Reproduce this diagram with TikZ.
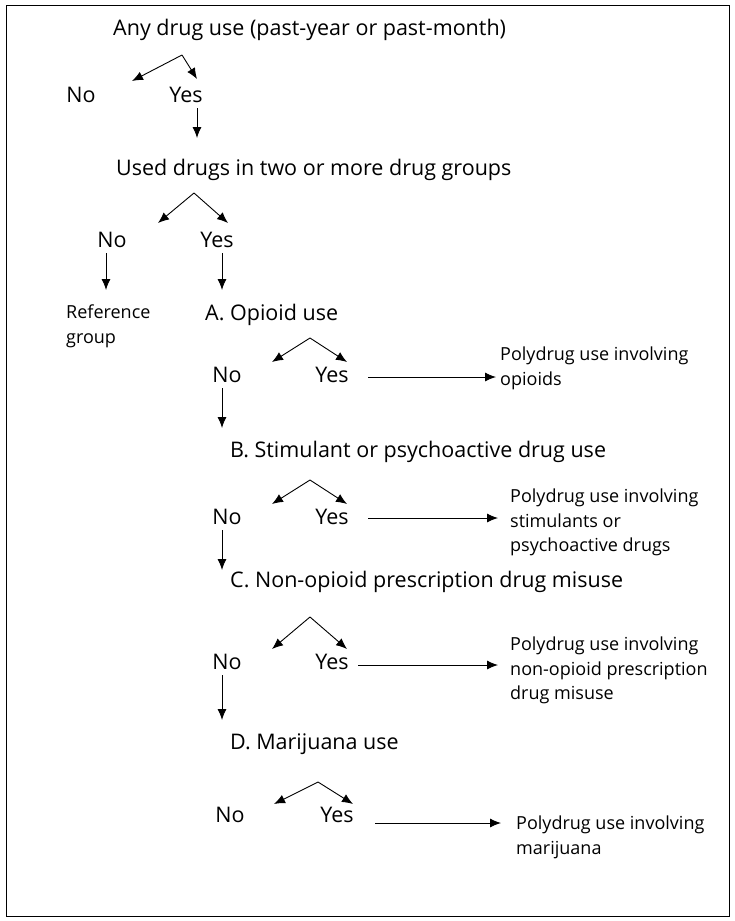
\documentclass[tikz,border=0pt]{standalone}
\usepackage{fontspec}
\setmainfont{Open Sans}
\usetikzlibrary{arrows.meta}
\begin{document}
\begin{tikzpicture}[x=1pt,y=-1pt,
  big/.style={font=\fontsize{21.5}{23}\selectfont,anchor=west,inner sep=0pt},
  yn/.style={font=\fontsize{21.5}{23}\selectfont,inner sep=1pt},
  small/.style={font=\fontsize{18}{24.5}\selectfont,anchor=north west,align=left,inner sep=0pt},
  arr/.style={-{Latex[length=11pt,width=9pt]},line width=0.9pt}]
\useasboundingbox (0,0) rectangle (735,921);
\draw[line width=0.8pt] (6,5) rectangle (729,916);
% level 0
\node[big] (q0) at (113,30) {Any drug use (past-year or past-month)};
\node[yn] (n0) at (81,95) {No};
\node[yn] (y0) at (186,95) {Yes};
\coordinate (a0) at (182,55);
\draw[arr] (a0) -- (132,81);
\draw[arr] (a0) -- (197,79);
\draw[arr] (197,108) -- (197,138);
% level 1
\node[big] (q1) at (116,170) {Used drugs in two or more drug groups};
\node[yn] (n1) at (112,240) {No};
\node[yn] (y1) at (217,240) {Yes};
\coordinate (a1) at (194,193);
\draw[arr] (a1) -- (158,223);
\draw[arr] (a1) -- (228,223);
\draw[arr] (106,253) -- (106,290);
\draw[arr] (222,253) -- (222,290);
\node[small] (ref) at (66,305) {Reference\\group};
% A
\node[big] (qa) at (205,315) {A. Opioid use};
\node[yn] (na) at (227,375) {No};
\node[yn] (ya) at (332,375) {Yes};
\coordinate (aa) at (310,338);
\draw[arr] (aa) -- (272,362);
\draw[arr] (aa) -- (347,362);
\draw[arr] (368,377) -- (496,377);
\node[small] (pa) at (500,347) {Polydrug use involving\\opioids};
\draw[arr] (222,388) -- (222,428);
% B
\node[big] (qb) at (230,452) {B. Stimulant or psychoactive drug use};
\node[yn] (nb) at (227,517) {No};
\node[yn] (yb) at (332,517) {Yes};
\coordinate (ab) at (310,480);
\draw[arr] (ab) -- (272,504);
\draw[arr] (ab) -- (347,504);
\draw[arr] (368,518) -- (498,518);
\node[small] (pb) at (510,489) {Polydrug use involving\\stimulants or\\psychoactive drugs};
\draw[arr] (222,530) -- (222,570);
% C
\node[big] (qc) at (230,582) {C. Non-opioid prescription drug misuse};
\node[yn] (nc) at (227,662) {No};
\node[yn] (yc) at (332,662) {Yes};
\coordinate (ac) at (310,617);
\draw[arr] (ac) -- (272,649);
\draw[arr] (ac) -- (347,649);
\draw[arr] (358,665) -- (498,665);
\node[small] (pc) at (510,637) {Polydrug use involving\\non-opioid prescription\\drug misuse};
\draw[arr] (222,675) -- (222,720);
% D
\node[big] (qd) at (230,744) {D. Marijuana use};
\node[yn] (nd) at (230,815) {No};
\node[yn] (yd) at (337,815) {Yes};
\coordinate (ad) at (318,782);
\draw[arr] (ad) -- (274,804);
\draw[arr] (ad) -- (353,804);
\draw[arr] (375,823) -- (501,823);
\node[small] (pd) at (516,816) {Polydrug use involving\\marijuana};
\end{tikzpicture}
\end{document}
